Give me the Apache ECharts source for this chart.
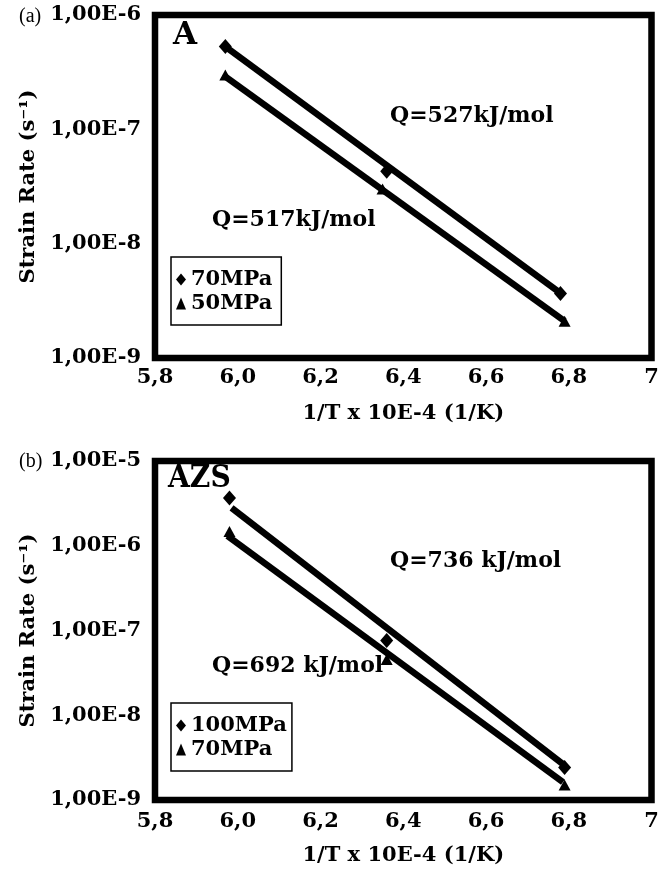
<!DOCTYPE html>
<html><head><meta charset="utf-8">
<script src="https://cdn.jsdelivr.net/npm/echarts@6/dist/echarts.min.js"></script>
<style>html,body{margin:0;padding:0;background:#fff}#c{width:664px;height:871px}</style>
</head><body><div id="c"></div>
<script>
// ---- tick labels ----
const xTickLabels = ['5,8', '6,0', '6,2', '6,4', '6,6', '6,8', '7'];
const yTickLabelsA = ['1,00E-9', '1,00E-8', '1,00E-7', '1,00E-6'];
const yTickLabelsB = ['1,00E-9', '1,00E-8', '1,00E-7', '1,00E-6', '1,00E-5'];

// ---- panel (a): alloy A ----
const xA70 = [5.97, 6.36, 6.78];
const yA70 = [5.3e-7, 4.3e-8, 3.66e-9];
const xA50 = [5.97, 6.35, 6.79];
const yA50 = [2.98e-7, 3.0e-8, 2.1e-9];
const fitXA70 = [5.97, 6.78];
const fitYA70 = [5.3e-7, 3.7e-9];
const fitXA50 = [5.965, 6.79];
const fitYA50 = [2.98e-7, 2.1e-9];

// ---- panel (b): alloy AZS ----
const xB100 = [5.98, 6.36, 6.79];
const yB100 = [3.67e-6, 7.6e-8, 2.41e-9];
const xB70 = [5.98, 6.36, 6.79];
const yB70 = [1.47e-6, 4.56e-8, 1.5e-9];
const fitXB100 = [5.985, 6.786];
const fitYB100 = [2.8e-6, 2.65e-9];
const fitXB70 = [5.975, 6.786];
const fitYB70 = [1.31e-6, 1.63e-9];

const zip = (xs, ys) => xs.map((x, i) => [x, ys[i]]);

const FONT = 'DejaVu Serif';
const labelStyle = { color: '#000', fontFamily: FONT, fontWeight: 'bold', fontSize: 21 };

function xAxisFor(gridIndex, margin) {
  return {
    type: 'value', gridIndex, min: 5.8, max: 7, interval: 0.2,
    axisLine: { show: false }, axisTick: { show: false }, splitLine: { show: false },
    axisLabel: Object.assign({}, labelStyle, {
      margin,
      formatter: v => xTickLabels[Math.round((v - 5.8) / 0.2)]
    }),
    name: '1/T x 10E-4 (1/K)', nameLocation: 'middle', nameGap: 45,
    nameTextStyle: Object.assign({}, labelStyle)
  };
}
function yAxisFor(gridIndex, min, max, labels) {
  return {
    type: 'log', logBase: 10, gridIndex, min, max,
    axisLine: { show: false }, axisTick: { show: false }, splitLine: { show: false },
    axisLabel: Object.assign({}, labelStyle, {
      margin: 14,
      formatter: v => labels[Math.round(Math.log10(v)) + 9]
    }),
    name: 'Strain Rate (s⁻¹)', nameLocation: 'middle', nameGap: 115,
    nameTextStyle: Object.assign({}, labelStyle)
  };
}
function fitLine(xi, data) {
  return { type: 'line', xAxisIndex: xi, yAxisIndex: xi, data, symbol: 'none',
    lineStyle: { color: '#000', width: 6.5 }, z: 2, silent: true };
}
function pts(name, xi, data, symbol, size) {
  return { type: 'scatter', name, xAxisIndex: xi, yAxisIndex: xi, data, symbol,
    symbolSize: size, itemStyle: { color: '#000', opacity: 1 }, z: 3, silent: true };
}
function legendFor(top, items, padRight) {
  return {
    left: 171, top, orient: 'vertical', itemGap: 3, itemWidth: 10, itemHeight: 12,
    padding: [12, padRight, 11, 5], borderColor: '#000', borderWidth: 1.5,
    backgroundColor: '#fff', borderRadius: 0, selectedMode: false,
    itemStyle: { color: '#000', opacity: 1 },
    textStyle: Object.assign({}, labelStyle),
    data: items
  };
}
function txt(x, y, text, size, weight, family, sx) {
  return { type: 'text', x, y, scaleX: sx || 1, style: { text, fill: '#000', fontSize: size,
    fontWeight: weight, fontFamily: family || FONT, textVerticalAlign: 'middle' } };
}

const chart = echarts.init(document.getElementById('c'), null, { renderer: 'canvas' });
chart.setOption({
  backgroundColor: '#fff',
  animation: false,
  grid: [
    { left: 155, top: 15, width: 496.5, height: 343, show: true, borderColor: '#000', borderWidth: 6.5, backgroundColor: 'transparent' },
    { left: 155, top: 461, width: 496.5, height: 339, show: true, borderColor: '#000', borderWidth: 6.5, backgroundColor: 'transparent' }
  ],
  xAxis: [xAxisFor(0, 9), xAxisFor(1, 11)],
  yAxis: [yAxisFor(0, 1e-9, 1e-6, yTickLabelsA), yAxisFor(1, 1e-9, 1e-5, yTickLabelsB)],
  legend: [
    legendFor(257, [{ name: '70MPa', icon: 'diamond' }, { name: '50MPa', icon: 'triangle' }], 9),
    legendFor(703, [{ name: '100MPa', icon: 'diamond' }, { name: '70MPa ', icon: 'triangle' }], 5)
  ],
  series: [
    fitLine(0, zip(fitXA70, fitYA70)),
    fitLine(0, zip(fitXA50, fitYA50)),
    pts('70MPa', 0, zip(xA70, yA70), 'diamond', [13, 15]),
    pts('50MPa', 0, zip(xA50, yA50), 'triangle', [12, 11]),
    fitLine(1, zip(fitXB100, fitYB100)),
    fitLine(1, zip(fitXB70, fitYB70)),
    pts('100MPa', 1, zip(xB100, yB100), 'diamond', [13, 15]),
    pts('70MPa ', 1, zip(xB70, yB70), 'triangle', [12, 11])
  ],
  graphic: [
    txt(19, 17, '(a)', 20, 'normal', 'Liberation Serif'),
    txt(19, 462, '(b)', 20, 'normal', 'Liberation Serif'),
    txt(173, 36, 'A', 31, 'bold'),
    txt(168, 479, 'AZS', 32, 'bold', FONT, 0.88),
    txt(390, 116, 'Q=527kJ/mol', 22, 'bold'),
    txt(212, 220, 'Q=517kJ/mol', 22, 'bold'),
    txt(390, 561, 'Q=736 kJ/mol', 22, 'bold'),
    txt(212, 666, 'Q=692 kJ/mol', 22, 'bold')
  ]
});
</script></body></html>
